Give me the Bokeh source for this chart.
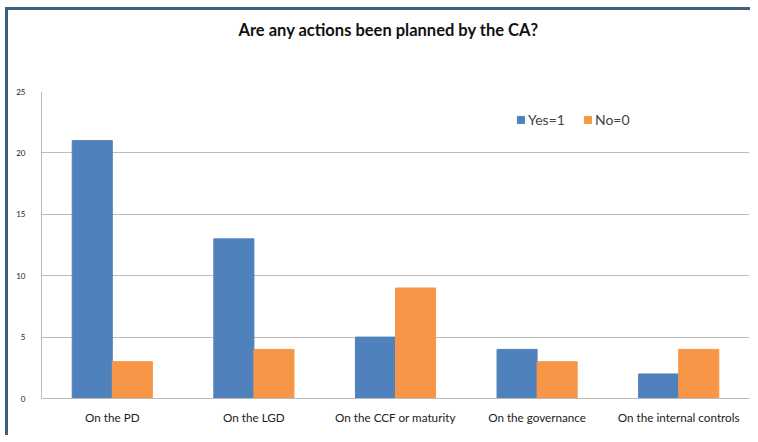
from bokeh.plotting import figure
from bokeh.models import FactorRange, Legend, LegendItem, ColumnDataSource, Title
from bokeh.transform import dodge
from bokeh.embed import file_html
from bokeh.resources import INLINE

categories = ["On the PD", "On the LGD", "On the CCF or maturity", "On the governance", "On the internal controls"]
yes_values = [21, 13, 5, 4, 2]
no_values = [3, 4, 9, 3, 4]
y_ticks = [0, 5, 10, 15, 20, 25]

src = ColumnDataSource(dict(cat=categories, yes=yes_values, no=no_values))

p = figure(x_range=FactorRange(*categories), y_range=(0, 25), width=745, height=428,
           output_backend="svg", toolbar_location=None, title_location=None,
           min_border_left=33, min_border_right=4, min_border_top=81, min_border_bottom=40)
p.styles = {"border-top": "3px solid #3f5f7f", "border-left": "3px solid #3f5f7f",
            "margin-left": "5px", "margin-top": "7px"}

spacer = Title(text=" ", text_font_size="1px", standoff=49)
p.add_layout(spacer, "above")
main_title = Title(text="Are any actions been planned by the CA?", align="left", offset=197,
                   text_font="Lato", text_font_size="16.5px", text_font_style="bold",
                   text_color="#111111", standoff=0)
p.add_layout(main_title, "above")

w = 0.283
r1 = p.vbar(x=dodge("cat", -w / 2, range=p.x_range), top="yes", width=w, source=src,
            fill_color="#4f81bd", line_color="#4f81bd")
r2 = p.vbar(x=dodge("cat", w / 2, range=p.x_range), top="no", width=w, source=src,
            fill_color="#f79646", line_color="#f79646")

legend = Legend(items=[LegendItem(label="Yes=1", renderers=[r1]), LegendItem(label="No=0", renderers=[r2])],
                orientation="horizontal", location=(475, 270), padding=0, spacing=18,
                border_line_color=None, background_fill_alpha=0,
                label_text_font="Lato", label_text_font_size="14px",
                glyph_width=9, glyph_height=9, label_standoff=3)
p.add_layout(legend, "center")

p.yaxis.ticker = y_ticks
p.xgrid.grid_line_color = None
p.ygrid.grid_line_color = "#bcbcbc"
p.outline_line_color = None
for ax in (p.xaxis, p.yaxis):
    ax.axis_line_color = "#bcbcbc"
    ax.major_tick_line_color = None
    ax.minor_tick_line_color = None
    ax.major_label_text_font = "Lato"
    ax.major_label_text_color = "#222222"
p.yaxis.major_label_text_font_size = "8px"
p.yaxis.major_label_standoff = 10
p.xaxis.major_label_text_font_size = "11.7px"
p.xaxis.major_label_standoff = 5

open("out.html", "w").write(file_html(p, INLINE))
